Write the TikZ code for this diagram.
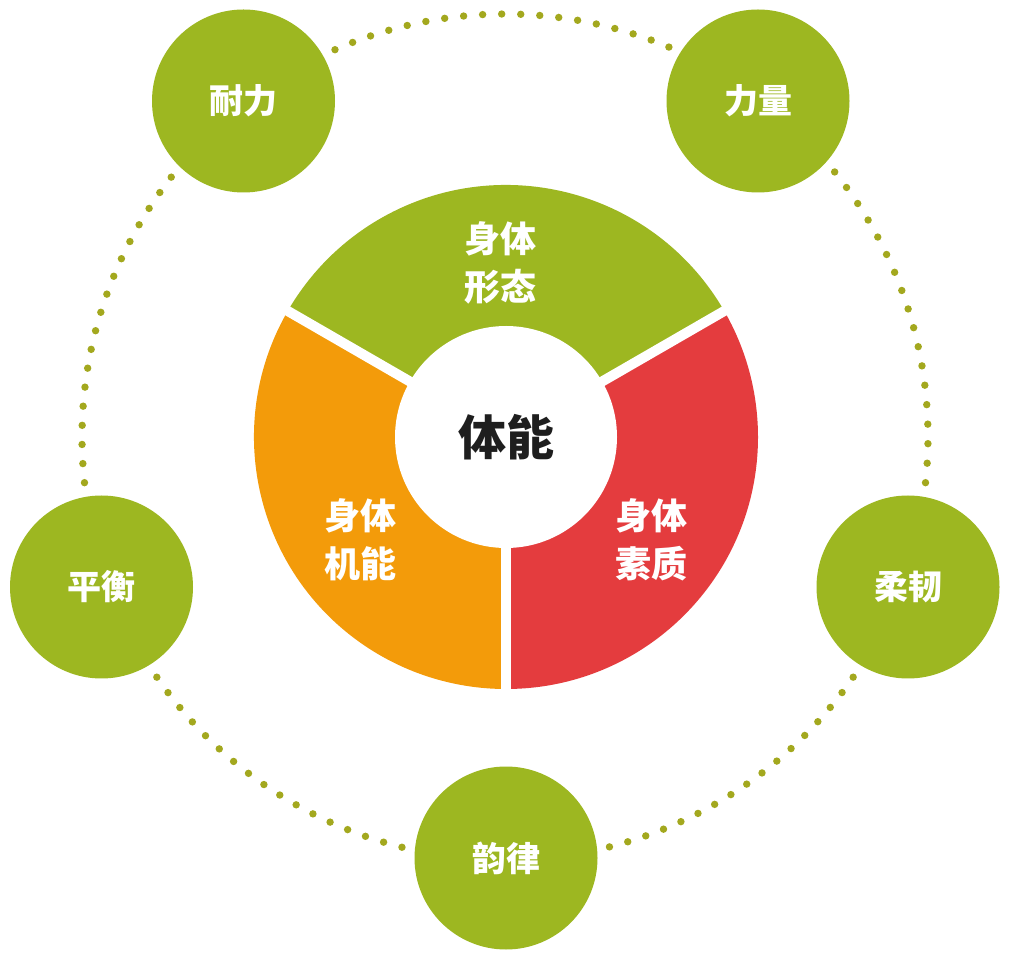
\documentclass[tikz,border=0pt]{standalone}
\usepackage{fontspec}
\newfontfamily\cjk{Noto Sans CJK SC}
\definecolor{leaf}{RGB}{157,183,33}
\definecolor{orangeseg}{RGB}{243,155,10}
\definecolor{redseg}{RGB}{228,60,62}
\definecolor{dotc}{RGB}{163,168,30}
\definecolor{darktext}{RGB}{30,30,30}
\begin{document}
\begin{tikzpicture}[x=1pt,y=1pt,
  bubble/.style={circle, fill=leaf, minimum size=183pt, inner sep=0pt, text=white,
    font=\cjk\bfseries\fontsize{34}{40}\selectfont},
  seglabel/.style={text=white, align=center,
    font=\cjk\bfseries\fontsize{36}{48}\selectfont},
  corelabel/.style={circle, fill=white, minimum size=222pt, inner sep=0pt, text=darktext,
    font=\cjk\bfseries\fontsize{48}{56}\selectfont},
  ringdot/.style={fill=dotc}]
\useasboundingbox (0,0) rectangle (1014,964);
\fill[white] (0,0) rectangle (1014,964);
% dotted ring between the bubbles
\coordinate (R) at (505,527);
\foreach \a/\b/\n in {284.3/325.4/16, 353.8/398.8/17, 67.2/113.7/18, 142.1/186.2/17, 214.6/255.9/16}{
  \foreach \k in {0,...,\n}{
    \pgfmathsetmacro\t{\a+(\b-\a)*\k/\n}
    \fill[ringdot] (R) ++(\t:423) circle (3.7);
  }
}
% donut
\coordinate (O) at (506,527);
\fill[leaf] (O) -- ++(30:252) arc[start angle=30,end angle=150,radius=252] -- cycle;
\fill[orangeseg] (O) -- ++(150:252) arc[start angle=150,end angle=270,radius=252] -- cycle;
\fill[redseg] (O) -- ++(270:252) arc[start angle=270,end angle=390,radius=252] -- cycle;
\foreach \g in {30,150,270} \draw[white,line width=10pt] (O) -- ++(\g:262);
\node[corelabel] (core) at (O) {体能};
\node[seglabel] (form) at (500,701) {身体\\形态};
\node[seglabel] (func) at (360,424) {身体\\机能};
\node[seglabel] (qual) at (651,424) {身体\\素质};
% bubbles
\node[bubble] (nl) at (243.5,863) {耐力};
\node[bubble] (ll) at (758,863) {力量};
\node[bubble] (ph) at (101.5,377) {平衡};
\node[bubble] (rr) at (908,377) {柔韧};
\node[bubble] (yl) at (506,106) {韵律};
\end{tikzpicture}
\end{document}
